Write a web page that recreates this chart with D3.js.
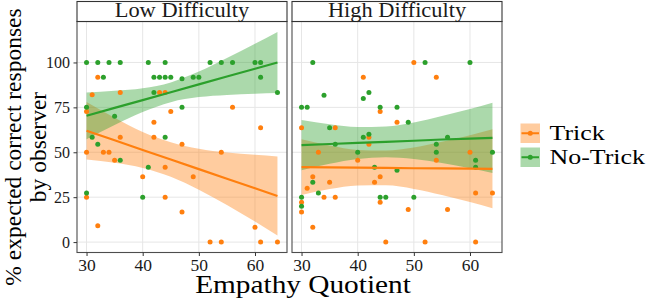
<!DOCTYPE html>
<html>
<head>
<meta charset="utf-8">
<script src="https://cdn.jsdelivr.net/npm/d3@7"></script>
<style>
	body { margin: 0; background: #fff; }
	svg { display: block; }
	svg text { font-family: "Liberation Serif", "DejaVu Serif", serif; }
</style>
</head>
<body>
<svg id="chart" width="649" height="299"></svg>
<script>
// points, low difficulty
const lowTrickEQ = [32, 31, 36, 43, 44, 30, 45, 56, 42, 61, 36, 42, 47, 30, 33, 34, 54, 35, 44, 40, 49, 30, 44, 47, 32, 60, 52, 54, 61, 64];
const lowTrickPct = [91.7, 82, 83.3, 83.3, 83.3, 72.7, 72.7, 75, 66.7, 63.6, 58.3, 58.3, 54.5, 50, 50, 50, 50, 45.5, 41.7, 36.4, 36.4, 25, 25, 16.7, 9.1, 8.3, 0, 0, 0, 0];
const lowNoTrickEQ = [30, 32, 34, 36, 41, 44, 52, 54, 56, 60, 61, 33, 42, 43, 44, 45, 47, 49, 50, 61, 42, 64, 30, 47, 35, 31, 44, 32, 36, 41, 30, 40];
const lowNoTrickPct = [100, 100, 100, 100, 100, 100, 100, 100, 100, 100, 100, 91.7, 91.7, 91.7, 91.7, 91.7, 90.9, 91.7, 91.7, 91.7, 83.3, 83.3, 75, 75, 70, 58.3, 58.3, 54.5, 45.5, 41.7, 27.3, 25];

// points, high difficulty
const highTrickEQ = [50, 41, 54, 44, 47, 30, 36, 42, 42, 33, 60, 40, 54, 32, 44, 35, 43, 31, 61, 64, 34, 36, 30, 44, 49, 56, 30, 32, 45, 52, 61];
const highTrickPct = [100, 91.7, 91.7, 72.7, 66.7, 63.6, 63.6, 58.3, 54.5, 50, 50, 45.5, 45.5, 36.4, 36.4, 33.3, 33.3, 30, 27.3, 27.3, 25, 25, 22.2, 22.2, 18.2, 18.2, 16.7, 8.3, 0, 0, 0];
const highNoTrickEQ = [32, 52, 60, 34, 42, 41, 30, 31, 44, 47, 49, 35, 42, 41, 56, 36, 54, 40, 54, 64, 61, 43, 61, 47, 32, 33, 30, 44, 45, 50, 30];
const highNoTrickPct = [100, 100, 100, 81.8, 83.3, 80, 75, 75, 75, 75, 66.7, 63.6, 60, 58.3, 58.3, 54.5, 54.5, 50, 50, 50, 45.5, 41.7, 41.7, 40, 33.3, 27.3, 25, 25, 25, 25, 20];

// fitted lines and bands, read at these EQ values
const fitEQ = [30, 35, 40, 45, 50, 55, 60, 64];
const lowTrickFit = [62, 56.7, 51.3, 46, 40.6, 35.3, 30, 25.7];
const lowTrickLo = [46, 44.2, 41.3, 36.4, 29.2, 20.7, 11.4, 3.7];
const lowTrickHi = [78, 69.2, 61.3, 55.6, 52, 49.9, 48.6, 47.7];
const lowNoTrickFit = [70.3, 74.7, 79, 83.4, 87.8, 92.2, 96.5, 100];
const lowNoTrickLo = [57.3, 65.2, 72.4, 77.9, 80.7, 81.9, 82.6, 83];
const lowNoTrickHi = [83.3, 84.2, 85.6, 88.9, 94.9, 102.5, 110.4, 117];
const highTrickFit = [41.7, 41.6, 41.4, 41.3, 41.1, 41, 40.9, 40.8];
const highTrickLo = [26.2, 29.5, 31.5, 31.6, 29.6, 26.2, 22.3, 18.8];
const highTrickHi = [57.2, 53.7, 51.3, 51, 52.7, 55.8, 59.5, 62.8];
const highNoTrickFit = [54, 54.6, 55.2, 55.8, 56.4, 57.1, 57.6, 58];
const highNoTrickLo = [40, 43.6, 46.3, 47.2, 46.2, 44, 41.1, 38.4];
const highNoTrickHi = [68, 65.6, 64.1, 64.4, 66.6, 70.2, 74.1, 77.6];

const panelNames = ['Low Difficulty', 'High Difficulty'];
const groupNames = ['Trick', 'No-Trick'];
const xTicks = [30, 40, 50, 60];
const yTicks = [0, 25, 50, 75, 100];
const colors = { 'Trick': '#ff7f0e', 'No-Trick': '#2ca02c' };

const panels = [
	{
		name: panelNames[0], left: 77,
		groups: [
			{ key: 'Trick', x: lowTrickEQ, y: lowTrickPct, fit: lowTrickFit, lo: lowTrickLo, hi: lowTrickHi },
			{ key: 'No-Trick', x: lowNoTrickEQ, y: lowNoTrickPct, fit: lowNoTrickFit, lo: lowNoTrickLo, hi: lowNoTrickHi }
		]
	},
	{
		name: panelNames[1], left: 292,
		groups: [
			{ key: 'Trick', x: highTrickEQ, y: highTrickPct, fit: highTrickFit, lo: highTrickLo, hi: highTrickHi },
			{ key: 'No-Trick', x: highNoTrickEQ, y: highNoTrickPct, fit: highNoTrickFit, lo: highNoTrickLo, hi: highNoTrickHi }
		]
	}
];

const panelW = 210, panelH = 231, panelTop = 21.5, stripH = 20;
const svg = d3.select('#chart');

let xScale = d3.scaleLinear().domain([28.3, 65.7]).range([0, panelW]);
let yScale = d3.scaleLinear().domain([-5.8, 122.8]).range([panelH, 0]);

panels.forEach(function(p, pi) {
	let g = svg.append('g')
		.attr('transform', 'translate(' + p.left + ',' + panelTop + ')');
	let clipId = 'clip' + pi;
	g.append('clipPath').attr('id', clipId)
		.append('rect').attr('width', panelW).attr('height', panelH);

	// grid
	g.selectAll('.vgrid').data(xTicks).enter().append('line')
		.attr('x1', d => xScale(d)).attr('x2', d => xScale(d))
		.attr('y1', 0).attr('y2', panelH)
		.style('stroke', '#e6e6e6').style('stroke-width', 1);
	g.selectAll('.hgrid').data(yTicks).enter().append('line')
		.attr('x1', 0).attr('x2', panelW)
		.attr('y1', d => yScale(d)).attr('y2', d => yScale(d))
		.style('stroke', '#e6e6e6').style('stroke-width', 1);

	let plot = g.append('g').attr('clip-path', 'url(#' + clipId + ')');

	// bands
	p.groups.forEach(function(gr) {
		let area = d3.area()
			.x((d, i) => xScale(fitEQ[i]))
			.y0((d, i) => yScale(gr.lo[i]))
			.y1((d, i) => yScale(gr.hi[i]))
			.curve(d3.curveMonotoneX);
		plot.append('path')
			.datum(fitEQ)
			.attr('d', area)
			.style('fill', colors[gr.key])
			.style('fill-opacity', 0.4)
			.style('stroke', 'none');
	});

	// points
	p.groups.forEach(function(gr) {
		plot.selectAll('.pt-' + gr.key)
			.data(gr.x).enter().append('circle')
			.attr('cx', d => xScale(d))
			.attr('cy', (d, i) => yScale(gr.y[i]))
			.attr('r', 2.5)
			.style('fill', colors[gr.key]);
	});

	// fitted lines
	p.groups.forEach(function(gr) {
		let line = d3.line()
			.x((d, i) => xScale(fitEQ[i]))
			.y((d, i) => yScale(gr.fit[i]));
		plot.append('path')
			.datum(fitEQ)
			.attr('d', line)
			.style('fill', 'none')
			.style('stroke', colors[gr.key])
			.style('stroke-width', 2.2);
	});

	// border
	g.append('rect')
		.attr('width', panelW).attr('height', panelH)
		.style('fill', 'none').style('stroke', '#4d4d4d').style('stroke-width', 1.1);

	// strip
	g.append('rect')
		.attr('y', -stripH).attr('width', panelW).attr('height', stripH)
		.style('fill', '#fff').style('stroke', '#333').style('stroke-width', 1.1);
	g.append('text')
		.attr('transform', 'translate(' + (panelW / 2) + ',-5) scale(1.12,1)')
		.style('text-anchor', 'middle')
		.style('font-size', '20px')
		.style('fill', '#1a1a1a')
		.text(p.name);

	// x axis
	let xAxis = g.append('g')
		.attr('transform', 'translate(0,' + panelH + ')')
		.call(d3.axisBottom(xScale).tickValues(xTicks).tickSize(3.5).tickPadding(3))
		.attr('font-family', null)
		.attr('font-size', '17.5px');
	xAxis.select('.domain').remove();
	xAxis.selectAll('line').style('stroke', '#333');
	xAxis.selectAll('text').style('fill', '#1a1a1a');

	if (pi == 0) {
		let yAxis = g.append('g')
			.call(d3.axisLeft(yScale).tickValues(yTicks).tickSize(3.5).tickPadding(3.5))
			.attr('font-family', null)
			.attr('font-size', '16px');
		yAxis.select('.domain').remove();
		yAxis.selectAll('line').style('stroke', '#333');
		yAxis.selectAll('text').style('fill', '#1a1a1a');
	}
});

// axis titles
svg.append('text')
	.attr('transform', 'translate(303,292.5) scale(1.15,1)')
	.style('text-anchor', 'middle')
	.style('font-size', '25.5px')
	.text('Empathy Quotient');

let yTitle = svg.append('text')
	.attr('transform', 'translate(0,147) rotate(-90)')
	.style('text-anchor', 'middle')
	.style('font-size', '23.5px');
yTitle.append('tspan').attr('x', 0).attr('y', 20.5).text('% expected correct responses');
yTitle.append('tspan').attr('x', 0).attr('y', 46).text('by observer');

// legend
let legend = svg.append('g').attr('transform', 'translate(520.5,123.5)');
groupNames.forEach(function(name, i) {
	let row = legend.append('g').attr('transform', 'translate(0,' + (i * 24) + ')');
	row.append('rect')
		.attr('width', 19.5).attr('height', 19.5)
		.style('fill', colors[name]).style('fill-opacity', 0.4);
	row.append('line')
		.attr('x1', 1).attr('x2', 18.5).attr('y1', 9.75).attr('y2', 9.75)
		.style('stroke', colors[name]).style('stroke-width', 2);
	row.append('circle')
		.attr('cx', 9.75).attr('cy', 9.75).attr('r', 2.5)
		.style('fill', colors[name]);
	row.append('text')
		.attr('transform', 'translate(29,16.5) scale(1.2,1)')
		.style('font-size', '21.6px')
		.text(name);
});
</script>
</body>
</html>
